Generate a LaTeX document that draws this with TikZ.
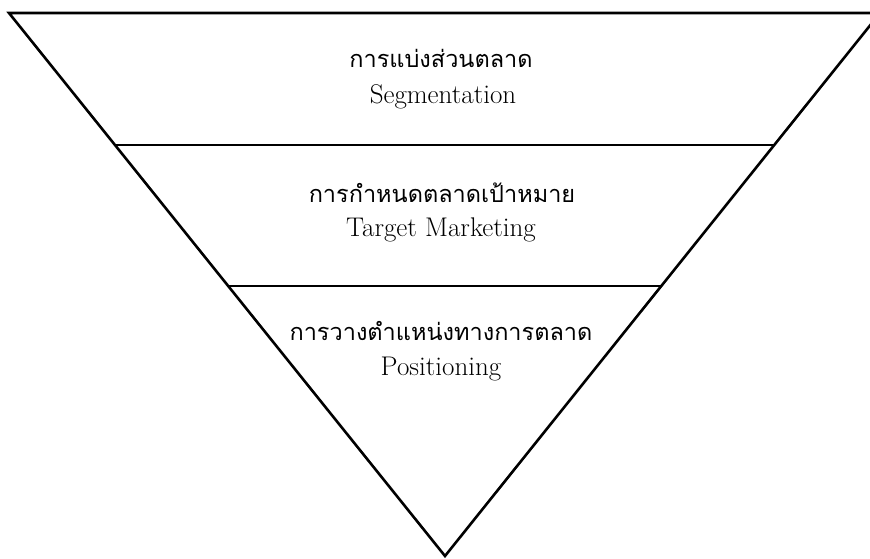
\documentclass[tikz,border=0pt]{standalone}
\usepackage{fontspec}
\newfontfamily\thaifont[Script=Thai]{Loma}
\usetikzlibrary{calc}

\begin{document}
\begin{tikzpicture}[x=1pt,y=-1pt,
  thai/.style={anchor=base,inner sep=1pt,font=\thaifont\fontsize{23.5}{26}\selectfont},
  eng/.style={anchor=base,inner sep=1pt,font=\fontsize{27}{30}\selectfont}]
  \useasboundingbox (0,0) rectangle (870,558);
  \clip (0,0) rectangle (870,558);
  \coordinate (tl) at (9,13);
  \coordinate (tr) at (880,13);
  \coordinate (apex) at (445,556);
  \draw[line width=2.6pt,line join=miter] (tl) -- (tr) -- (apex) -- cycle;
  % layer borders
  \draw[line width=1.4pt] ($(tl)!0.243!(apex)$) -- ($(tr)!0.243!(apex)$);
  \draw[line width=1.4pt] ($(tl)!0.503!(apex)$) -- ($(tr)!0.503!(apex)$);

  \node[thai] (seg-th) at (441,67) {การแบ่งส่วนตลาด};
  \node[eng] (seg-en) at (443,103) {Segmentation};
  \node[thai] (tgt-th) at (442,202) {การกำหนดตลาดเป้าหมาย};
  \node[eng] (tgt-en) at (441,236) {Target\ Marketing};
  \node[thai] (pos-th) at (441,340) {การวางตำแหน่งทางการตลาด};
  \node[eng] (pos-en) at (441,375) {Positioning};
\end{tikzpicture}
\end{document}
